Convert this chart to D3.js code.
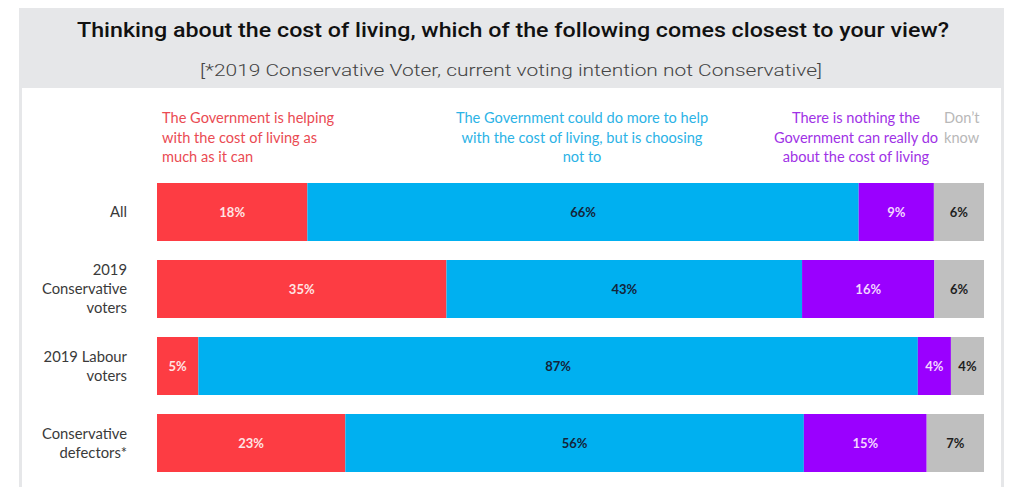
<!DOCTYPE html>
<html>
<head>
<meta charset="utf-8">
<script src="https://cdn.jsdelivr.net/npm/d3@7"></script>
<style>
  html, body { margin: 0; padding: 0; background: #ffffff; }
  svg { display: block; }
</style>
</head>
<body>
<svg id="chart" width="1011" height="487"></svg>
<script>
// Survey groups (rows) and the four answer options (stack keys)
const categories = ["All", "2019 Conservative voters", "2019 Labour voters", "Conservative defectors*"];
const categoryLines = [["All"], ["2019", "Conservative", "voters"], ["2019 Labour", "voters"], ["Conservative", "defectors*"]];
const seriesKeys = ["helping", "couldDoMore", "nothing", "dontKnow"];
const seriesLabels = [
  ["The Government is helping", "with the cost of living as", "much as it can"],
  ["The Government could do more to help", "with the cost of living, but is choosing", "not to"],
  ["There is nothing the", "Government can really do", "about the cost of living"],
  ["Don\u2019t", "know"]
];
const seriesColors = ["#fd3c43", "#00b0f0", "#9a00ff", "#bfbfbf"];
const valueColors = ["#ffe4e4", "#14243a", "#f3d6ff", "#1e1e1e"];
const legendColors = ["#ea4b53", "#2cb3e6", "#a032e6", "#b8b8b8"];

// Percentages per answer, one array per answer option, in category order
const helping = [18, 35, 5, 23];
const couldDoMore = [66, 43, 87, 56];
const nothing = [9, 16, 4, 15];
const dontKnow = [6, 6, 4, 7];

const title = "Thinking about the cost of living, which of the following comes closest to your view?";
const subtitle = "[*2019 Conservative Voter, current voting intention not Conservative]";

const rows = categories.map((c, i) => ({
  category: c,
  helping: helping[i],
  couldDoMore: couldDoMore[i],
  nothing: nothing[i],
  dontKnow: dontKnow[i]
}));

const svg = d3.select("#chart");
const W = 1011, H = 487;

// Frame: grey border panel with a white plotting card
svg.append("rect").attr("x", 19).attr("y", 8).attr("width", 985).attr("height", H - 8).attr("fill", "#e6e7e9");
svg.append("rect").attr("x", 22).attr("y", 88).attr("width", 979).attr("height", H - 88).attr("fill", "#ffffff");

svg.append("text")
  .attr("x", 513).attr("y", 37)
  .attr("text-anchor", "middle")
  .attr("font-family", "Roboto, sans-serif")
  .attr("font-weight", 500)
  .attr("font-size", 20)
  .attr("fill", "#111")
  .attr("textLength", 872).attr("lengthAdjust", "spacingAndGlyphs")
  .text(title);

svg.append("text")
  .attr("x", 511).attr("y", 76)
  .attr("text-anchor", "middle")
  .attr("font-family", "Roboto, sans-serif")
  .attr("font-weight", 300)
  .attr("font-size", 17)
  .attr("fill", "#444")
  .attr("textLength", 622).attr("lengthAdjust", "spacingAndGlyphs")
  .text(subtitle);

// Scales
const x = d3.scaleLinear().domain([0, 1]).range([157, 984]);
const y = d3.scaleBand().domain(categories).range([173.5, 481.5]).paddingInner(0.2468).paddingOuter(0.1234);

const stacked = d3.stack().keys(seriesKeys).offset(d3.stackOffsetExpand)(rows);

const font = "Lato, 'Open Sans', sans-serif";

const layers = svg.append("g").selectAll("g")
  .data(stacked)
  .join("g")
  .attr("fill", (d, i) => seriesColors[i]);

layers.selectAll("rect")
  .data(d => d.map(p => ({ p, key: d.key })))
  .join("rect")
  .attr("x", d => x(d.p[0]))
  .attr("y", d => y(d.p.data.category))
  .attr("width", d => x(d.p[1]) - x(d.p[0]))
  .attr("height", y.bandwidth());

// Value labels centred in each segment
stacked.forEach((layer, si) => {
  svg.append("g").selectAll("text")
    .data(layer)
    .join("text")
    .attr("x", p => (x(p[0]) + x(p[1])) / 2)
    .attr("y", p => y(p.data.category) + y.bandwidth() / 2 + 4.5)
    .attr("text-anchor", "middle")
    .attr("font-family", font)
    .attr("font-weight", 700)
    .attr("font-size", 13)
    .attr("fill", valueColors[si])
    .text(p => p.data[layer.key] + "%");
});

// Category labels
const catG = svg.append("g");
categories.forEach((c, i) => {
  const lines = categoryLines[i];
  const cy = y(c) + y.bandwidth() / 2;
  const lh = 19;
  const t = catG.append("text")
    .attr("text-anchor", "end")
    .attr("font-family", font)
    .attr("font-size", 14.8)
    .attr("fill", "#3a3a3a");
  lines.forEach((ln, j) => {
    t.append("tspan")
      .attr("x", 127)
      .attr("y", cy + 5 + (j - (lines.length - 1) / 2) * lh)
      .text(ln);
  });
});

// Answer-option headers above the bars
const legendPos = [
  { x: 162, anchor: "start" },
  { x: 582, anchor: "middle" },
  { x: 856, anchor: "middle" },
  { x: 944, anchor: "start" }
];
seriesLabels.forEach((lines, i) => {
  const t = svg.append("text")
    .attr("text-anchor", legendPos[i].anchor)
    .attr("font-family", font)
    .attr("font-size", 14.6)
    .attr("fill", legendColors[i]);
  lines.forEach((ln, j) => {
    t.append("tspan").attr("x", legendPos[i].x).attr("y", 123 + j * 19.5).text(ln);
  });
});
</script>
</body>
</html>
